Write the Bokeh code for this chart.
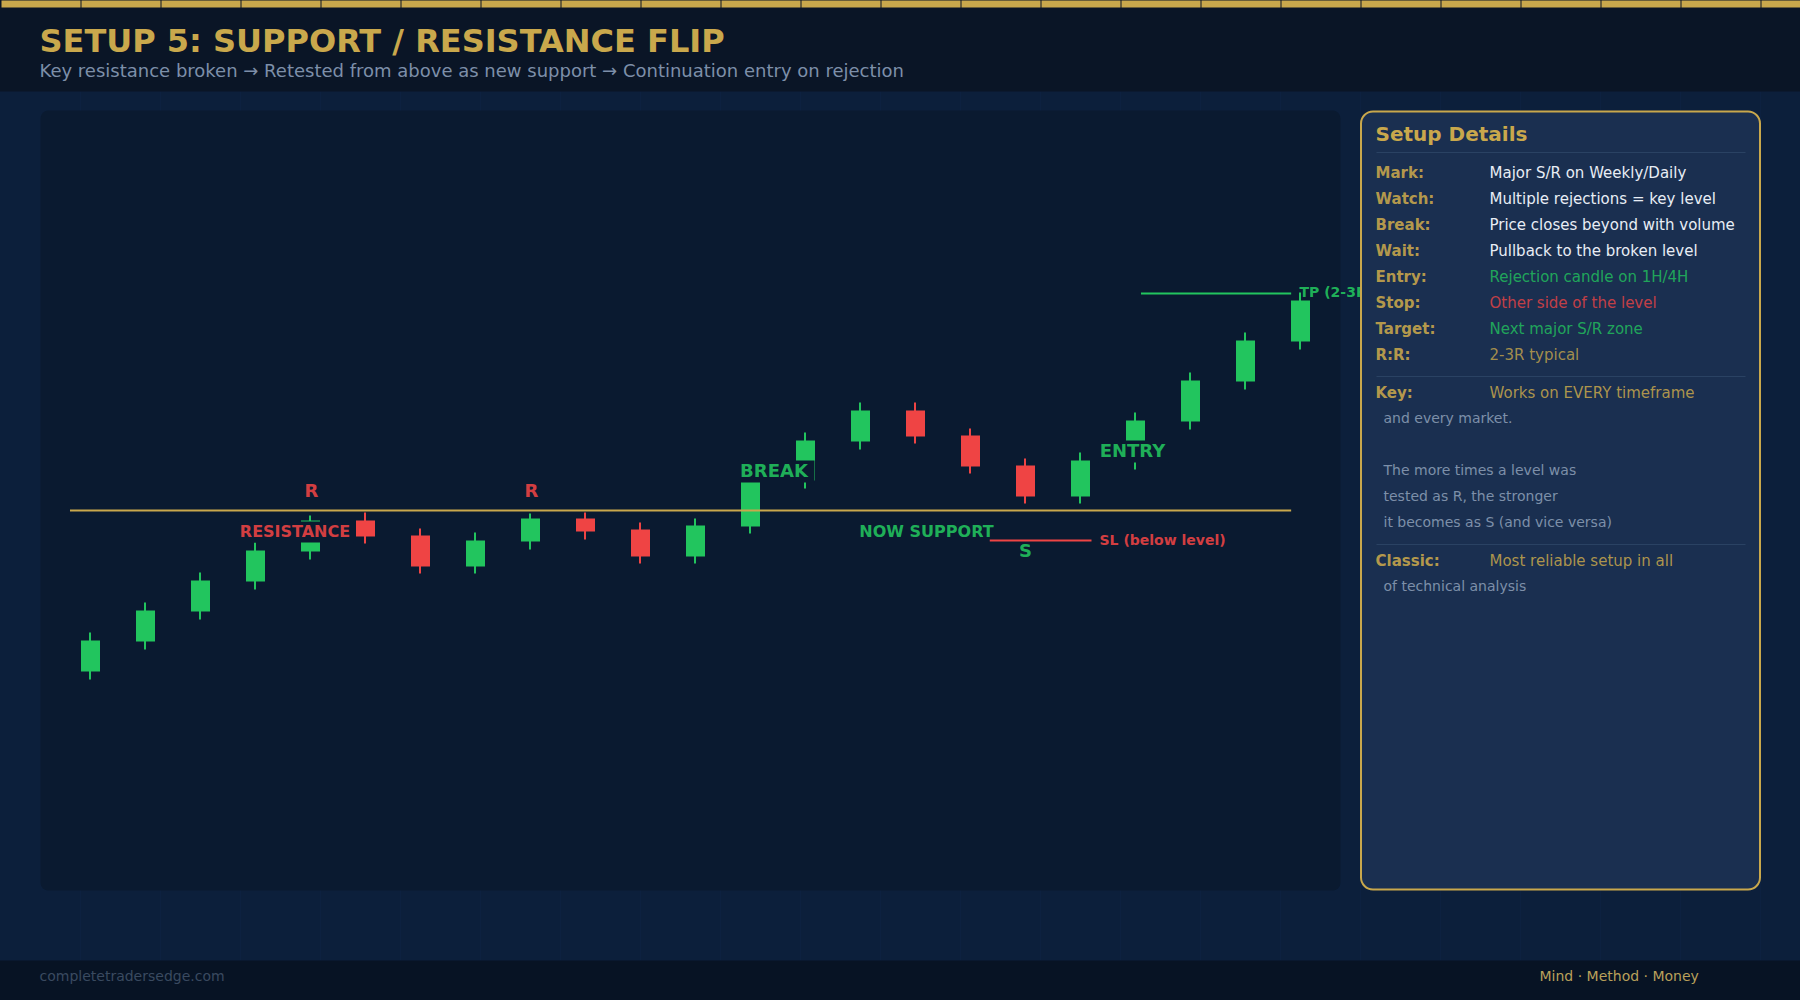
from bokeh.core.properties import value
from bokeh.embed import file_html
from bokeh.models import BoxAnnotation, ColumnDataSource, Range1d
from bokeh.plotting import figure
from bokeh.resources import INLINE

# candles, in price units (level = 100)
opens = [83.9, 86.9, 89.9, 92.9, 95.9, 99.0, 97.5, 94.4, 96.9, 99.2, 98.1, 95.4,
         98.4, 103.0, 106.9, 110.0, 107.5, 104.5, 101.4, 104.9, 108.9, 112.9, 116.9]
closes = [87.0, 90.0, 93.0, 96.0, 99.0, 97.4, 94.4, 97.0, 99.2, 97.9, 95.4, 98.5,
          102.9, 107.0, 110.0, 107.4, 104.4, 101.4, 105.0, 109.0, 113.0, 117.0, 121.0]
highs = [87.8, 90.8, 93.8, 96.8, 99.5, 99.8, 98.2, 97.8, 99.7, 99.8, 98.8, 99.2,
         103.6, 107.8, 110.8, 110.8, 108.2, 105.2, 105.8, 109.8, 113.8, 117.8, 121.8]
lows = [83.1, 86.1, 89.1, 92.1, 95.1, 96.7, 93.7, 93.7, 96.1, 97.1, 94.7, 94.7,
        97.7, 102.2, 106.1, 106.7, 103.7, 100.7, 100.7, 104.1, 108.1, 112.1, 116.1]
level_price = 100.0
tp_price = 121.7
sl_price = 97.0

title = "SETUP 5: SUPPORT / RESISTANCE FLIP"
subtitle = "Key resistance broken \u2192 Retested from above as new support \u2192 Continuation entry on rejection"
footer_left = "completetradersedge.com"
footer_right = "Mind \u00b7 Method \u00b7 Money"

detail_labels = ["Mark:", "Watch:", "Break:", "Wait:", "Entry:", "Stop:", "Target:", "R:R:"]
detail_texts = ["Major S/R on Weekly/Daily", "Multiple rejections = key level",
                "Price closes beyond with volume", "Pullback to the broken level",
                "Rejection candle on 1H/4H", "Other side of the level",
                "Next major S/R zone", "2-3R typical"]

GOLD = "#c9a84c"
GREEN = "#22c55e"
RED = "#ef4444"
WHITE = "#e8edf5"
GREY = "#7d8fa9"
PANEL = "#0a1a30"
FONT = value("DejaVu Sans")

p = figure(width=1802, height=1002, output_backend="svg", toolbar_location=None,
           x_range=Range1d(-1, 1801), y_range=Range1d(1001, -1),
           x_axis_type=None, y_axis_type=None, min_border=0,
           background_fill_color="#0c1f3b", border_fill_color="#0c1f3b",
           outline_line_color=None, margin=(-1, -1, -1, -1))
p.grid.visible = False

# candle scales: x by bar number, y by price
p.extra_x_ranges["bar"] = Range1d(-91 / 55, (1802 - 91) / 55)
p.extra_y_ranges["price"] = Range1d(50.9, 151.1)


def txt(x, y, s, color, size, bold=False, align="left", level="glyph", alpha=1.0):
    p.text([x - 1], [y - 1], text=[s], text_color=color, text_font=FONT, text_alpha=alpha,
           text_font_size=f"{size}px", text_font_style="bold" if bold else "normal",
           text_align=align, text_baseline="middle", level=level)


def mask(left, right, top, bottom):
    p.quad(left=[left], right=[right], top=[top], bottom=[bottom],
           fill_color=PANEL, line_color=None)


# page chrome
grid_x = list(range(80, 1800, 80))
p.segment(grid_x, [91] * len(grid_x), grid_x, [960] * len(grid_x), color="#0d2140",
          line_width=1, level="image")
p.quad(left=[-1], right=[1801], top=[-1], bottom=[91], fill_color="#0a1526", line_color=None)
p.quad(left=[-1], right=[1801], top=[960], bottom=[1001], fill_color="#071324", line_color=None)
seg = list(range(0, 1800, 80))
p.quad(left=[s + 1 for s in seg], right=[s + 80 for s in seg], top=[0] * len(seg), bottom=[7] * len(seg),
       fill_color=GOLD, line_color=None)
txt(40, 41, title, GOLD, 32, True)
txt(40, 71, subtitle, GREY, 18)
txt(40, 976, footer_left, "#3a4a60", 14)
txt(1540, 976, footer_right, "#b9a05a", 14)

p.add_layout(BoxAnnotation(left=40, right=1340, top=110, bottom=890, border_radius=8,
                           fill_color=PANEL, fill_alpha=1, line_color=None,
                           level="underlay", editable=False))

# candles
source = ColumnDataSource(dict(
    bar=list(range(len(opens))), wick=[i - 0.5 / 55 for i in range(len(opens))],
    opens=opens, closes=closes, highs=highs, lows=lows,
    color=[GREEN if c >= o else RED for o, c in zip(opens, closes)],
))
p.segment("wick", "highs", "wick", "lows", source=source, color="color", line_width=2,
          x_range_name="bar", y_range_name="price")
p.vbar("bar", width=19 / 55, top="opens", bottom="closes", source=source,
       fill_color="color", line_color=None, x_range_name="bar", y_range_name="price")

# key level, target and stop
p.line([-0.373, 21.83], [level_price, level_price], color=GOLD, line_width=2,
       x_range_name="bar", y_range_name="price")
p.line([19.1, 21.83], [tp_price, tp_price], color=GREEN, line_width=2,
       x_range_name="bar", y_range_name="price")
p.line([16.35, 18.2], [sl_price, sl_price], color=RED, line_width=2,
       x_range_name="bar", y_range_name="price")

# label backings hide the candles under them
mask(238, 353, 521, 542)
mask(738, 814, 460, 482)
mask(1098, 1168, 440, 462)

txt(312, 491, "R", RED, 18, True, "center", alpha=0.9)
txt(532, 491, "R", RED, 18, True, "center", alpha=0.9)
txt(295.5, 532, "RESISTANCE", RED, 16, True, "center", alpha=0.9)
txt(774.5, 471, "BREAK", GREEN, 18, True, "center", alpha=0.9)
txt(1133, 451, "ENTRY", GREEN, 18, True, "center", alpha=0.9)
txt(927, 532, "NOW SUPPORT", GREEN, 16, True, "center", alpha=0.9)
txt(1026, 551, "S", GREEN, 18, True, "center", alpha=0.9)
txt(1100, 540, "SL (below level)", RED, 14, True, alpha=0.9)
txt(1300, 292, "TP (2-3R)", GREEN, 14, True, alpha=0.9)

# side panel
p.add_layout(BoxAnnotation(left=1360.5, right=1759.5, top=111, bottom=889, border_radius=12,
                           fill_color="#1a2f50", fill_alpha=1, line_color=GOLD, line_alpha=1,
                           line_width=2, level="annotation", editable=False))
txt(1376, 134, "Setup Details", GOLD, 20, True, level="overlay")
for rule_y in [152, 376, 544]:
    p.line([1376, 1745], [rule_y, rule_y], color="#2a4263", line_width=1, level="overlay")

detail_colors = [WHITE, WHITE, WHITE, WHITE, GREEN, RED, GREEN, GOLD]
for i, (lab, s, col) in enumerate(zip(detail_labels, detail_texts, detail_colors)):
    txt(1376, 173 + 26 * i, lab, GOLD, 15, True, level="overlay", alpha=0.9)
    txt(1490, 173 + 26 * i, s, col, 15, level="overlay", alpha=0.8 if i > 3 else 1.0)

txt(1376, 393, "Key:", GOLD, 15, True, level="overlay", alpha=0.9)
txt(1490, 393, "Works on EVERY timeframe", GOLD, 15, level="overlay", alpha=0.85)
txt(1384, 418, "and every market.", GREY, 14, level="overlay")
txt(1384, 470, "The more times a level was", GREY, 14, level="overlay")
txt(1384, 496, "tested as R, the stronger", GREY, 14, level="overlay")
txt(1384, 522, "it becomes as S (and vice versa)", GREY, 14, level="overlay")
txt(1376, 561, "Classic:", GOLD, 15, True, level="overlay", alpha=0.9)
txt(1490, 561, "Most reliable setup in all", GOLD, 15, level="overlay", alpha=0.85)
txt(1384, 586, "of technical analysis", GREY, 14, level="overlay")

open("out.html", "w").write(file_html(p, INLINE))
